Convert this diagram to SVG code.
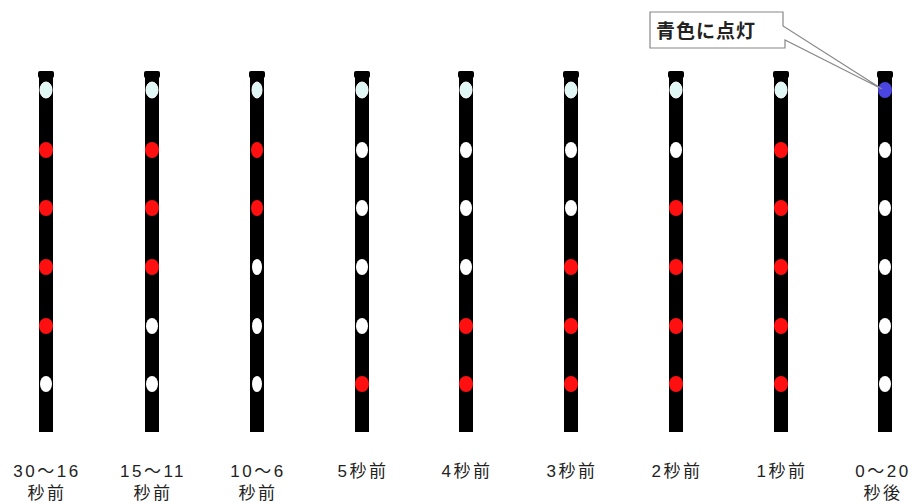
<svg xmlns="http://www.w3.org/2000/svg" width="920" height="503" viewBox="0 0 920 503">
<defs>
<style>
.pole{fill:#000}
.c{fill:#dff8f6;stroke:#ffffff;stroke-width:1}
.r{fill:#ff1010}
.w{fill:#ffffff}
.b{fill:#4a44e0}
.lbl{font-family:"Liberation Sans","Noto Sans CJK JP",sans-serif;font-size:17px;fill:#222;text-anchor:middle;letter-spacing:2.5px}
.call{font-family:"Noto Sans CJK JP",sans-serif;font-size:19px;font-weight:bold;fill:#222;letter-spacing:1px}
</style>
<g id="shape">
<rect class="pole" x="-7" y="3" width="14" height="358"/>
<rect class="pole" x="-8" y="0" width="16" height="7" rx="2"/>
</g>
</defs>
<rect width="920" height="503" fill="#fff"/>
<g id="col1" transform="translate(46,71)">
<use href="#shape"/>
<ellipse class="c" cx="0" cy="19" rx="6" ry="8"/>
<ellipse class="r" cx="0" cy="79" rx="7" ry="8"/>
<ellipse class="r" cx="0" cy="137" rx="7" ry="8"/>
<ellipse class="r" cx="0" cy="196" rx="7" ry="8"/>
<ellipse class="r" cx="0" cy="255" rx="7" ry="8"/>
<ellipse class="w" cx="0" cy="313" rx="6" ry="8"/>
</g>
<g id="col2" transform="translate(152,71)">
<use href="#shape"/>
<ellipse class="c" cx="0" cy="19" rx="6" ry="8"/>
<ellipse class="r" cx="0" cy="79" rx="7" ry="8"/>
<ellipse class="r" cx="0" cy="137" rx="7" ry="8"/>
<ellipse class="r" cx="0" cy="196" rx="7" ry="8"/>
<ellipse class="w" cx="0" cy="255" rx="6" ry="8"/>
<ellipse class="w" cx="0" cy="313" rx="6" ry="8"/>
</g>
<g id="col3" transform="translate(257,71)">
<use href="#shape"/>
<ellipse class="c" cx="0" cy="19" rx="5" ry="8"/>
<ellipse class="r" cx="0" cy="79" rx="6" ry="8"/>
<ellipse class="r" cx="0" cy="137" rx="6" ry="8"/>
<ellipse class="w" cx="0" cy="196" rx="5" ry="8"/>
<ellipse class="w" cx="0" cy="255" rx="5" ry="8"/>
<ellipse class="w" cx="0" cy="313" rx="5" ry="8"/>
</g>
<g id="col4" transform="translate(362,71)">
<use href="#shape"/>
<ellipse class="c" cx="0" cy="19" rx="6" ry="8"/>
<ellipse class="w" cx="0" cy="79" rx="6" ry="8"/>
<ellipse class="w" cx="0" cy="137" rx="6" ry="8"/>
<ellipse class="w" cx="0" cy="196" rx="6" ry="8"/>
<ellipse class="w" cx="0" cy="255" rx="6" ry="8"/>
<ellipse class="r" cx="0" cy="313" rx="7" ry="8"/>
</g>
<g id="col5" transform="translate(466,71)">
<use href="#shape"/>
<ellipse class="c" cx="0" cy="19" rx="6" ry="8"/>
<ellipse class="w" cx="0" cy="79" rx="6" ry="8"/>
<ellipse class="w" cx="0" cy="137" rx="6" ry="8"/>
<ellipse class="w" cx="0" cy="196" rx="6" ry="8"/>
<ellipse class="r" cx="0" cy="255" rx="7" ry="8"/>
<ellipse class="r" cx="0" cy="313" rx="7" ry="8"/>
</g>
<g id="col6" transform="translate(571,71)">
<use href="#shape"/>
<ellipse class="c" cx="0" cy="19" rx="6" ry="8"/>
<ellipse class="w" cx="0" cy="79" rx="6" ry="8"/>
<ellipse class="w" cx="0" cy="137" rx="6" ry="8"/>
<ellipse class="r" cx="0" cy="196" rx="7" ry="8"/>
<ellipse class="r" cx="0" cy="255" rx="7" ry="8"/>
<ellipse class="r" cx="0" cy="313" rx="7" ry="8"/>
</g>
<g id="col7" transform="translate(676,71)">
<use href="#shape"/>
<ellipse class="c" cx="0" cy="19" rx="6" ry="8"/>
<ellipse class="w" cx="0" cy="79" rx="6" ry="8"/>
<ellipse class="r" cx="0" cy="137" rx="7" ry="8"/>
<ellipse class="r" cx="0" cy="196" rx="7" ry="8"/>
<ellipse class="r" cx="0" cy="255" rx="7" ry="8"/>
<ellipse class="r" cx="0" cy="313" rx="7" ry="8"/>
</g>
<g id="col8" transform="translate(781,71)">
<use href="#shape"/>
<ellipse class="c" cx="0" cy="19" rx="6" ry="8"/>
<ellipse class="r" cx="0" cy="79" rx="7" ry="8"/>
<ellipse class="r" cx="0" cy="137" rx="7" ry="8"/>
<ellipse class="r" cx="0" cy="196" rx="7" ry="8"/>
<ellipse class="r" cx="0" cy="255" rx="7" ry="8"/>
<ellipse class="r" cx="0" cy="313" rx="7" ry="8"/>
</g>
<g id="col9" transform="translate(885,71)">
<use href="#shape"/>
<ellipse class="b" cx="0" cy="19" rx="7" ry="8"/>
<ellipse class="w" cx="0" cy="79" rx="6" ry="8"/>
<ellipse class="w" cx="0" cy="137" rx="6" ry="8"/>
<ellipse class="w" cx="0" cy="196" rx="6" ry="8"/>
<ellipse class="w" cx="0" cy="255" rx="6" ry="8"/>
<ellipse class="w" cx="0" cy="313" rx="6" ry="8"/>
</g>
<g id="labels">
<text class="lbl" x="47" y="477">30～16</text><text class="lbl" x="47" y="499">秒前</text>
<text class="lbl" x="153" y="477">15～11</text><text class="lbl" x="153" y="499">秒前</text>
<text class="lbl" x="258" y="477">10～6</text><text class="lbl" x="258" y="499">秒前</text>
<text class="lbl" x="363" y="477">5秒前</text>
<text class="lbl" x="467" y="477">4秒前</text>
<text class="lbl" x="572" y="477">3秒前</text>
<text class="lbl" x="677" y="477">2秒前</text>
<text class="lbl" x="782" y="477">1秒前</text>
<text class="lbl" x="883" y="477">0～20</text><text class="lbl" x="883" y="499">秒後</text>
</g>
<g id="callout">
<path d="M650 12 H783 V26 L882 89 L785 40 V48 H650 Z" fill="#fff" stroke="#888" stroke-width="1.2"/>
<text class="call" x="656" y="38">青色に点灯</text>
</g>
</svg>
